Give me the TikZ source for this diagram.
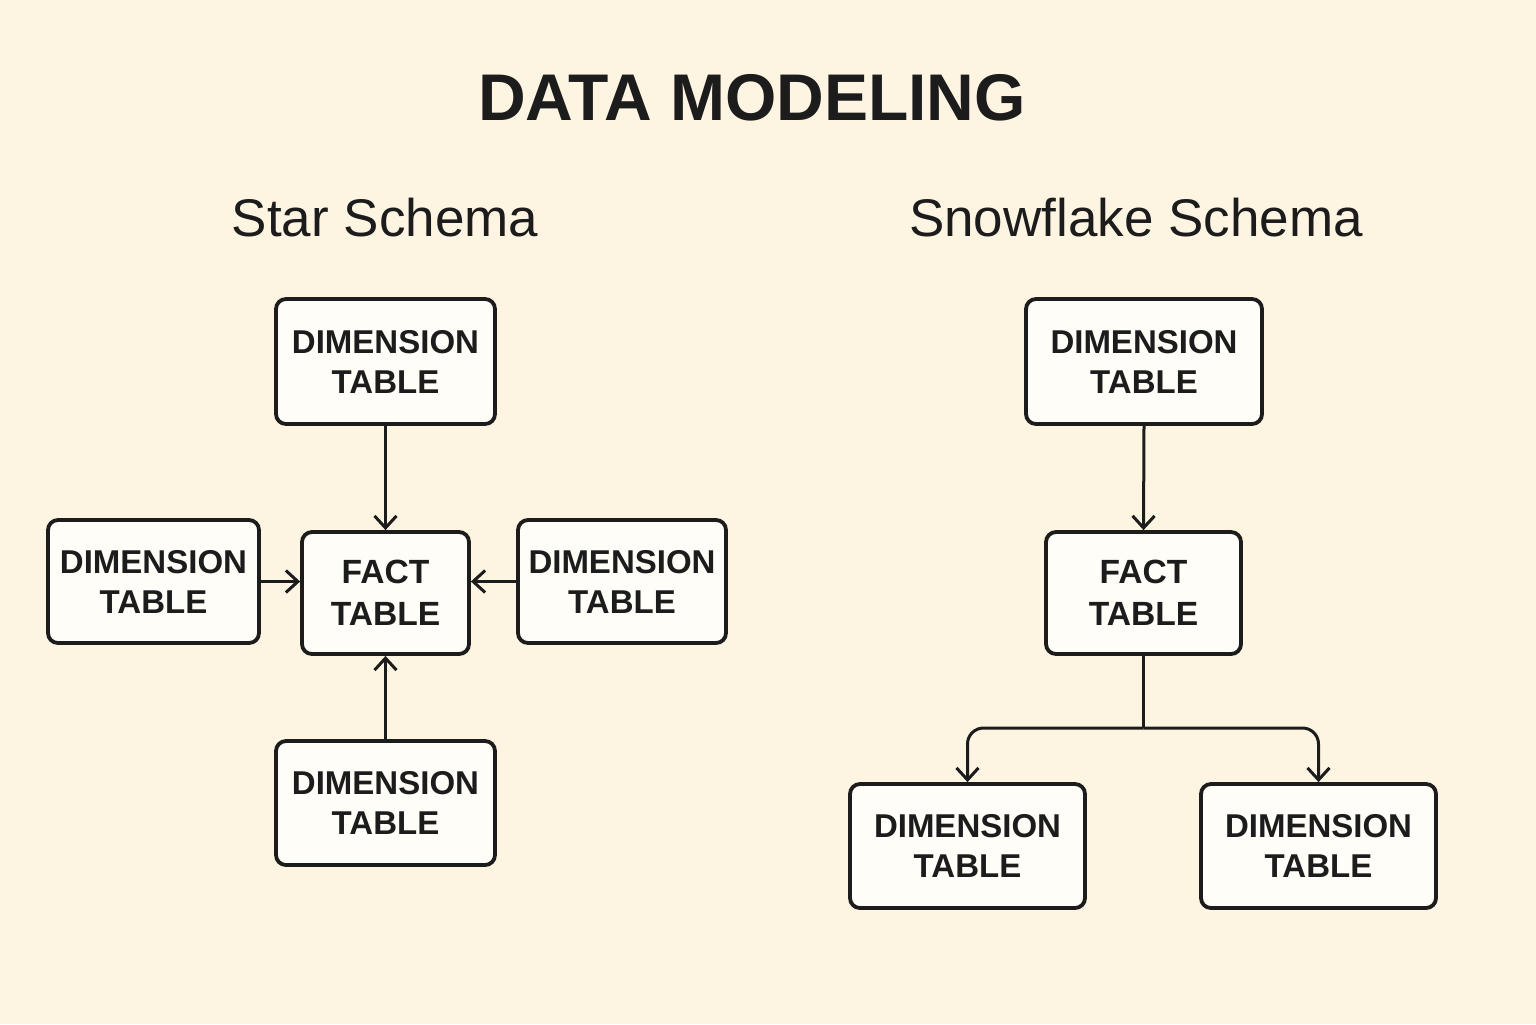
\documentclass[tikz,border=0pt]{standalone}
\usepackage{fontspec}
\setmainfont{Liberation Sans}
\usetikzlibrary{arrows.meta}
\definecolor{bgc}{HTML}{FDF4E2}
\definecolor{boxc}{HTML}{FFFDF7}
\definecolor{inkc}{HTML}{1C1C1C}
\tikzset{
  tbl/.style={draw=inkc, fill=boxc, line width=1.9pt, rounded corners=5pt, align=center,
    inner sep=0pt, text=inkc, font=\fontsize{16.5}{20}\selectfont\bfseries},
  facttbl/.style={tbl, font=\fontsize{16.8}{21}\selectfont\bfseries},
  arr/.style={draw=inkc, line width=1.5pt, -{Straight Barb[length=6pt,width=11pt,line width=1.5pt]}},
  conn/.style={draw=inkc, line width=1.5pt},
}
\begin{document}
\begin{tikzpicture}[x=0.5pt,y=-0.5pt]
\fill[bgc] (0,0) rectangle (1536,1024);
\useasboundingbox (0,0) rectangle (1536,1024);
\node[text=inkc, font=\fontsize{33}{38}\selectfont\bfseries, anchor=base] (title) at (752,120) {DATA MODELING};
\node[text=inkc, font=\fontsize{26.5}{30}\selectfont, anchor=base] (st) at (385,236) {Star Schema};
\node[text=inkc, font=\fontsize{26.5}{30}\selectfont, anchor=base] (sft) at (1136,236) {Snowflake Schema};
% star schema
\node[tbl, minimum width=109.5pt, minimum height=62.5pt] (t) at (385.5,361.5) {DIMENSION\\TABLE};
\node[tbl, minimum width=105.5pt, minimum height=61.5pt] (l) at (153.5,581.5) {DIMENSION\\TABLE};
\node[facttbl, minimum width=83.5pt, minimum height=61pt] (f) at (385.5,593) {FACT\\TABLE};
\node[tbl, minimum width=104pt, minimum height=61.5pt] (r) at (622,581.5) {DIMENSION\\TABLE};
\node[tbl, minimum width=109.5pt, minimum height=62pt] (b) at (385.5,803) {DIMENSION\\TABLE};
\draw[arr] (t.south) -- (f.north);
\draw[arr] (b.north) -- (f.south);
\draw[arr] (l.east) -- (l.east -| f.west);
\draw[arr] (r.west) -- (r.west -| f.east);
% snowflake schema
\node[tbl, minimum width=118pt, minimum height=62.5pt] (st2) at (1144,361.5) {DIMENSION\\TABLE};
\node[facttbl, minimum width=97.5pt, minimum height=61pt] (sf) at (1143.5,593) {FACT\\TABLE};
\node[tbl, minimum width=117.5pt, minimum height=62pt] (bl) at (967.5,846) {DIMENSION\\TABLE};
\node[tbl, minimum width=117.5pt, minimum height=62pt] (br) at (1318.5,846) {DIMENSION\\TABLE};
\coordinate (j) at (1143.5,728);
\draw[arr] (st2.south) -- (sf.north);
\draw[conn] (sf.south) -- (j);
\draw[arr, rounded corners=8pt] (j) -| (bl.north);
\draw[arr, rounded corners=8pt] (j) -| (br.north);
\end{tikzpicture}
\end{document}
